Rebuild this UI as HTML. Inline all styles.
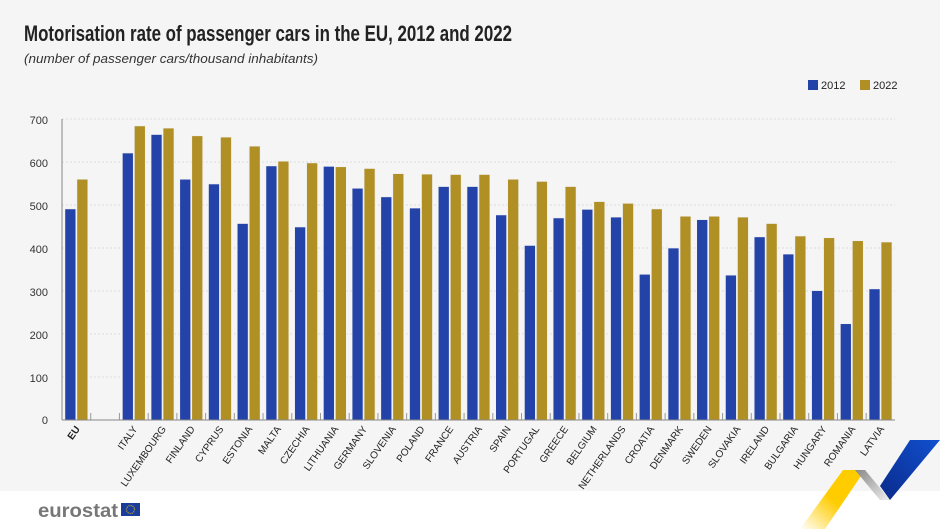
<!DOCTYPE html>
<html><head><meta charset="utf-8"><style>
html,body{margin:0;padding:0;background:#fff}
svg{display:block;font-family:"Liberation Sans",sans-serif}
</style></head><body>
<svg width="940" height="529" viewBox="0 0 940 529" xmlns="http://www.w3.org/2000/svg">
<defs>
<linearGradient id="gy" x1="0" y1="1" x2="1" y2="0"><stop offset="0" stop-color="#fff"/><stop offset="0.5" stop-color="#ffcc00"/></linearGradient>
<linearGradient id="gg" x1="0" y1="0" x2="1" y2="1"><stop offset="0" stop-color="#888"/><stop offset="1" stop-color="#eee"/></linearGradient>
<linearGradient id="gb" x1="0" y1="1" x2="1" y2="0"><stop offset="0" stop-color="#0a2a8a"/><stop offset="1" stop-color="#1150d0"/></linearGradient>
</defs>
<rect x="0" y="0" width="940" height="491" fill="#f5f5f5"/>
<text x="24" y="41" font-size="22" font-weight="bold" fill="#222" textLength="488" lengthAdjust="spacingAndGlyphs">Motorisation rate of passenger cars in the EU, 2012 and 2022</text>
<text x="24" y="63" font-size="13" font-style="italic" fill="#333" textLength="294" lengthAdjust="spacingAndGlyphs">(number of passenger cars/thousand inhabitants)</text>
<rect x="808" y="80" width="10" height="10" fill="#2443a8"/><text x="821" y="89" font-size="11" fill="#222">2012</text>
<rect x="860" y="80" width="10" height="10" fill="#b08f25"/><text x="873" y="89" font-size="11" fill="#222">2022</text>
<g font-size="11" fill="#333" text-anchor="end">
<text x="48" y="124">700</text><text x="48" y="167">600</text><text x="48" y="210">500</text><text x="48" y="253">400</text><text x="48" y="296">300</text><text x="48" y="339">200</text><text x="48" y="382">100</text><text x="48" y="424">0</text>
</g>
<g stroke="#ddd" stroke-dasharray="2,2">
<line x1="62" x2="895" y1="119" y2="119"/><line x1="62" x2="895" y1="162" y2="162"/><line x1="62" x2="895" y1="205" y2="205"/><line x1="62" x2="895" y1="248" y2="248"/><line x1="62" x2="895" y1="291" y2="291"/><line x1="62" x2="895" y1="334" y2="334"/><line x1="62" x2="895" y1="377" y2="377"/>
</g>
<g id="bars"></g>
<line x1="62" y1="119" x2="62" y2="420" stroke="#888"/>
<line x1="62" y1="420" x2="895" y2="420" stroke="#888"/>
<g id="labels" font-size="10" fill="#222"></g>
<text x="38" y="517" font-size="19" font-weight="bold" fill="#777" textLength="80" lengthAdjust="spacingAndGlyphs">eurostat</text>
<rect x="121" y="503" width="19" height="13" fill="#1a3d9c"/>
<circle cx="130.5" cy="509.5" r="4" fill="none" stroke="#ffcc00" stroke-width="1.2" stroke-dasharray="0.8,1.3"/>
<polygon points="843,470 865,470 825,529 800,529" fill="url(#gy)"/>
<polygon points="865,470 880,500 890,500 855,470" fill="url(#gg)"/>
<polygon points="855,470 865,470 890,500 880,500" fill="url(#gg)"/>
<polygon points="880,486 910,440 940,440 890,500" fill="url(#gb)"/>
<script>
var d=[["EU",491,560],null,["ITALY",621,684],["LUXEMBOURG",664,679],["FINLAND",560,661],["CYPRUS",549,658],["ESTONIA",457,637],["MALTA",591,602],["CZECHIA",449,598],["LITHUANIA",590,589],["GERMANY",539,585],["SLOVENIA",519,573],["POLAND",493,572],["FRANCE",543,571],["AUSTRIA",543,571],["SPAIN",477,560],["PORTUGAL",406,555],["GREECE",470,543],["BELGIUM",490,508],["NETHERLANDS",472,504],["CROATIA",339,491],["DENMARK",400,474],["SWEDEN",466,474],["SLOVAKIA",337,472],["IRELAND",426,457],["BULGARIA",386,428],["HUNGARY",301,424],["ROMANIA",224,417],["LATVIA",305,414]];
var ns="http://www.w3.org/2000/svg",b=document.getElementById("bars"),l=document.getElementById("labels"),w=28.72,s=0.43;
function r(x,v,c){var e=document.createElementNS(ns,"rect");e.setAttribute("x",x);e.setAttribute("y",420-v*s);e.setAttribute("width",11);e.setAttribute("height",v*s);e.setAttribute("fill",c);e.setAttribute("stroke","#f0f0f0");e.setAttribute("stroke-width","0.7");b.appendChild(e);}
for(var i=0;i<29;i++){var cx=62+(i+0.5)*w;
 if(i>0){var t=document.createElementNS(ns,"line");t.setAttribute("x1",62+i*w);t.setAttribute("x2",62+i*w);t.setAttribute("y1",413);t.setAttribute("y2",420);t.setAttribute("stroke","#999");b.appendChild(t);}
 if(!d[i])continue;
 r(cx-11.5,d[i][1],"#2443a8");r(cx+0.5,d[i][2],"#b08f25");
 var tx=document.createElementNS(ns,"text");tx.setAttribute("text-anchor","end");tx.setAttribute("transform","translate("+(cx+4)+",429) rotate(-55)");if(i==0)tx.setAttribute("font-weight","bold");tx.textContent=d[i][0];l.appendChild(tx);}
</script>
</svg>
</body></html>
